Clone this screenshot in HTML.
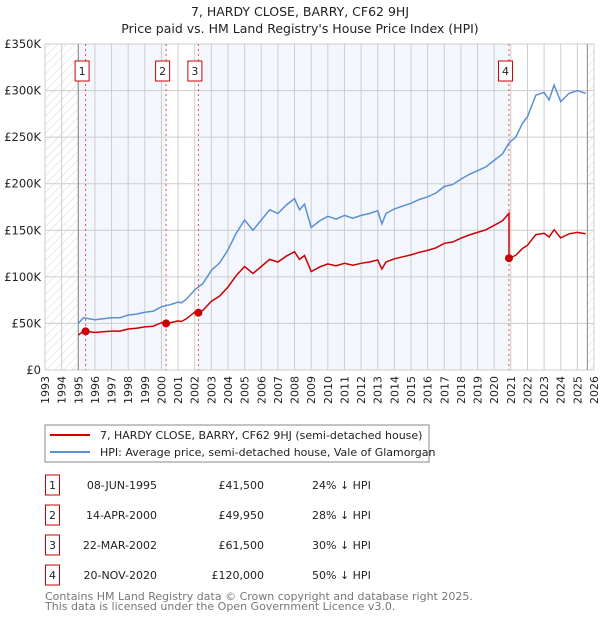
<!DOCTYPE html>
<html><head><meta charset="utf-8"><style>
body{margin:0;background:#fff;font-family:"DejaVu Sans","Liberation Sans",sans-serif;}
svg text{font-family:"DejaVu Sans","Liberation Sans",sans-serif;}
</style></head><body>
<svg id="c" width="600" height="620" xmlns="http://www.w3.org/2000/svg">
<defs><pattern id="hatch" width="6" height="6" patternUnits="userSpaceOnUse" patternTransform="rotate(45)"><line x1="0" y1="0" x2="0" y2="6" stroke="#ccc" stroke-width="0.8"/></pattern></defs>
<text x="300" y="16" text-anchor="middle" font-size="12.5" fill="#222">7, HARDY CLOSE, BARRY, CF62 9HJ</text>
<text x="300" y="33" text-anchor="middle" font-size="12.5" fill="#222">Price paid vs. HM Land Registry's House Price Index (HPI)</text>
<g id="plot"></g>
<rect x="45" y="425" width="384" height="37" fill="#fff" stroke="#888"/>
<line x1="50" y1="435" x2="90" y2="435" stroke="#cc0000" stroke-width="2"/>
<text x="100" y="439" font-size="11" fill="#222">7, HARDY CLOSE, BARRY, CF62 9HJ (semi-detached house)</text>
<line x1="50" y1="452" x2="90" y2="452" stroke="#5b8fd4" stroke-width="2"/>
<text x="100" y="456" font-size="11" fill="#222">HPI: Average price, semi-detached house, Vale of Glamorgan</text>
<g id="table" font-size="11" fill="#222"></g>
<text x="45" y="600" font-size="11" fill="#777">Contains HM Land Registry data © Crown copyright and database right 2025.</text>
<text x="45" y="610" font-size="11" fill="#777">This data is licensed under the Open Government Licence v3.0.</text>
</svg>
<script>
const hpiYears=[1995,1995.3,1996,1996.5,1997,1997.5,1998,1998.5,1999,1999.5,2000,2000.5,2001,2001.2,2001.5,2002,2002.5,2003,2003.5,2004,2004.5,2005,2005.5,2006,2006.5,2007,2007.5,2008,2008.3,2008.6,2009,2009.5,2010,2010.5,2011,2011.5,2012,2012.5,2013,2013.25,2013.5,2014,2014.5,2015,2015.5,2016,2016.5,2017,2017.5,2018,2018.5,2019,2019.5,2020,2020.5,2020.9,2021.3,2021.7,2022,2022.5,2023,2023.3,2023.6,2024,2024.5,2025,2025.5];
const hpiValues=[50,56,54,55,56,56,59,60,62,63,68,70,73,72,76,86,93,107,115,129,147,161,150,161,172,168,177,184,172,178,153,160,165,162,166,163,166,168,171,157,168,173,176,179,183,186,190,197,199,205,210,214,218,225,232,244,250,265,272,295,298,290,306,288,297,300,297];
const saleYears=[1995.44,2000.28,2002.22,2020.89];
const salePrices=[41500,49950,61500,120000];
const saleDates=["08-JUN-1995","14-APR-2000","22-MAR-2002","20-NOV-2020"];
const salePriceLabels=["£41,500","£49,950","£61,500","£120,000"];
const saleDiffs=["24% ↓ HPI","28% ↓ HPI","30% ↓ HPI","50% ↓ HPI"];
const yTicks=[0,50,100,150,200,250,300,350];
const yTickLabels=["£0","£50K","£100K","£150K","£200K","£250K","£300K","£350K"];
const xTicks=[1993,1994,1995,1996,1997,1998,1999,2000,2001,2002,2003,2004,2005,2006,2007,2008,2009,2010,2011,2012,2013,2014,2015,2016,2017,2018,2019,2020,2021,2022,2023,2024,2025,2026];

const X0=45,X1=594,Y0=370,Y1=44;
const xs=y=>X0+(y-1993)/(2026-1993)*(X1-X0);
const ys=v=>Y0-v/350*(Y0-Y1);
const NS="http://www.w3.org/2000/svg";
const plot=document.getElementById('plot');
function mk(tag,attrs,parent){const e=document.createElementNS(NS,tag);for(const k in attrs)e.setAttribute(k,attrs[k]);(parent||plot).appendChild(e);return e;}
function hpiAt(t){for(let i=0;i<hpiYears.length-1;i++){if(t<=hpiYears[i+1]){const f=(t-hpiYears[i])/(hpiYears[i+1]-hpiYears[i]);return hpiValues[i]+f*(hpiValues[i+1]-hpiValues[i]);}}return hpiValues[hpiValues.length-1];}

const startY=hpiYears[0],endY=hpiYears[hpiYears.length-1];
let bg=mk('rect',{x:X0,y:Y1,width:X1-X0,height:Y0-Y1,fill:'#fff'});


[[0,1],[2,3]].forEach(p=>{const a=p[0]===0?startY:saleYears[p[0]];const r=mk('rect',{x:xs(a),y:Y1,width:xs(saleYears[p[1]])-xs(a),height:Y0-Y1,fill:'#eef3fc',opacity:0.7});

});
let h1=mk('rect',{x:X0,y:Y1,width:xs(startY)-X0,height:Y0-Y1,fill:'url(#hatch)'});


let h2=mk('rect',{x:xs(endY+0.1),y:Y1,width:X1-xs(endY+0.1),height:Y0-Y1,fill:'url(#hatch)'});


xTicks.forEach(t=>{const l=mk('line',{x1:xs(t),x2:xs(t),y1:Y1,y2:Y0,stroke:'#ccc','stroke-width':1});


const tx=mk('text',{x:0,y:0,transform:`translate(${xs(t)+4},${Y0+6}) rotate(-90)`,'text-anchor':'end','font-size':11,fill:'#222'});tx.textContent=t;

});
yTicks.forEach((t,i)=>{const l=mk('line',{x1:X0,x2:X1,y1:ys(t),y2:ys(t),stroke:'#ccc','stroke-width':1});


const tx=mk('text',{x:X0-4,y:ys(t)+4,'text-anchor':'end','font-size':11.5,fill:'#222'});tx.textContent=yTickLabels[i];

});
[startY,endY+0.1].forEach(t=>{const l=mk('line',{x1:xs(t),x2:xs(t),y1:Y1,y2:Y0,stroke:'#888','stroke-width':1});

});
saleYears.forEach((t,i)=>{const l=mk('line',{x1:xs(t),x2:xs(t),y1:Y1,y2:Y0,stroke:'#e05050','stroke-width':1,'stroke-dasharray':'2,3'});


const r=mk('rect',{x:xs(t)-10.5,y:61,width:14,height:20,fill:'#fff',stroke:'#cc0000'});


const tx=mk('text',{x:xs(t)-3.5,y:75,'text-anchor':'middle','font-size':11,fill:'#222'});tx.textContent=i+1;

});
let pts=hpiYears.map((t,i)=>xs(t).toFixed(1)+','+ys(hpiValues[i]).toFixed(1)).join(' ');
let hl=mk('polyline',{points:pts,fill:'none',stroke:'#5b8fd4','stroke-width':1.5});


let rp=[];
const times=[...hpiYears,...saleYears].sort((a,b)=>a-b);
times.forEach(t=>{let k=0;for(let i=0;i<saleYears.length;i++)if(t>=saleYears[i])k=i;
const v=salePrices[k]/1000*hpiAt(t)/hpiAt(saleYears[k]);
if(k>0&&Math.abs(t-saleYears[k])<1e-9){const p=salePrices[k-1]/1000*hpiAt(t)/hpiAt(saleYears[k-1]);rp.push(xs(t).toFixed(1)+','+ys(p).toFixed(1));}
rp.push(xs(t).toFixed(1)+','+ys(v).toFixed(1));});
let pl=mk('polyline',{points:rp.join(' '),fill:'none',stroke:'#cc0000','stroke-width':1.5});


saleYears.forEach((t,i)=>{const c=mk('circle',{cx:xs(t),cy:ys(salePrices[i]/1000),r:4,fill:'#cc0000'});

});
const tb=document.getElementById('table');
saleYears.forEach((t,i)=>{const cy=485+i*30;
const r=mk('rect',{x:45.5,y:cy-10,width:14,height:20,fill:'#fff',stroke:'#cc0000'},tb);


const a=mk('text',{x:52.5,y:cy+4,'text-anchor':'middle'},tb);a.textContent=i+1;


const d=mk('text',{x:157,y:cy+4,'text-anchor':'end'},tb);d.textContent=saleDates[i];


const p=mk('text',{x:264,y:cy+4,'text-anchor':'end'},tb);p.textContent=salePriceLabels[i];


const h=mk('text',{x:312,y:cy+4},tb);h.textContent=saleDiffs[i];

});
</script>
</body></html>
